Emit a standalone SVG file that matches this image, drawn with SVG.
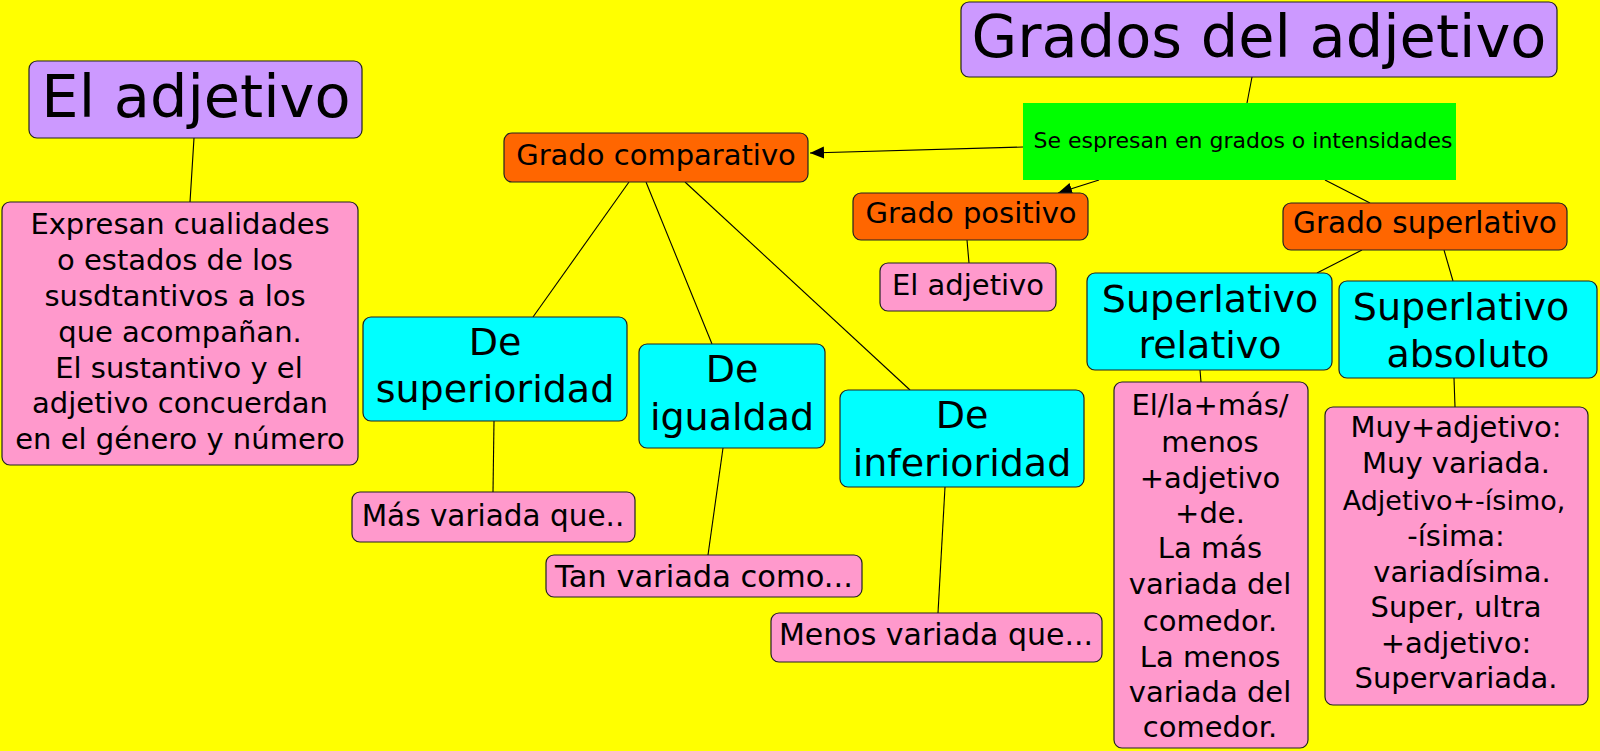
<svg xmlns="http://www.w3.org/2000/svg" width="1600" height="751" viewBox="0 0 1600 751">
<style>
  text { font-family: "DejaVu Sans", "Liberation Sans", sans-serif; fill: #000; text-anchor: middle; }
  .box { stroke: #222; stroke-width: 1.2; }
  .purple { fill: #CC99FF; }
  .orange { fill: #FF6600; }
  .cyan { fill: #00FFFF; }
  .pink { fill: #FF99CC; }
  .green { fill: #00FF00; }
  .t59 { font-size: 59px; }
  .t38 { font-size: 38px; }
  .t29 { font-size: 29px; }
  .t22 { font-size: 22px; }
  .conn line { stroke: #000; stroke-width: 1.1; }
</style>
<defs>
  <marker id="arrow" markerUnits="userSpaceOnUse" markerWidth="16" markerHeight="14" refX="14" refY="6" orient="auto">
    <path d="M0,0 L14,6 L0,12 Z" fill="#000"/>
  </marker>
</defs>
<rect width="1600" height="751" fill="#FFFF00"/>

<g id="connectors" class="conn">
  <line x1="1252" y1="77" x2="1247" y2="103"/>
  <line x1="1023" y1="147" x2="810" y2="153" marker-end="url(#arrow)"/>
  <line x1="1099" y1="180" x2="1058" y2="193" marker-end="url(#arrow)"/>
  <line x1="1325" y1="180" x2="1370" y2="203"/>
  <line x1="194" y1="138" x2="190" y2="202"/>
  <line x1="629" y1="182" x2="533" y2="317"/>
  <line x1="646" y1="182" x2="712" y2="344"/>
  <line x1="685" y1="182" x2="910" y2="390"/>
  <line x1="494" y1="421" x2="493" y2="492"/>
  <line x1="723" y1="448" x2="708" y2="555"/>
  <line x1="945" y1="487" x2="938" y2="613"/>
  <line x1="967" y1="240" x2="969" y2="263"/>
  <line x1="1362" y1="250" x2="1317" y2="273"/>
  <line x1="1444" y1="250" x2="1453" y2="281"/>
  <line x1="1200" y1="370" x2="1201" y2="382"/>
  <line x1="1454" y1="378" x2="1455" y2="407"/>
</g>

<g id="grados">
  <rect class="box purple" x="961" y="2" width="596" height="75" rx="8"/>
  <text class="t59" x="1259" y="57">Grados del adjetivo</text>
</g>
<g id="el-adjetivo">
  <rect class="box purple" x="29" y="61" width="333" height="77" rx="8"/>
  <text class="t59" x="196" y="117">El adjetivo</text>
</g>
<g id="expresan">
  <rect class="box pink" x="2" y="202" width="356" height="263" rx="8"/>
  <text class="t29" x="180" y="234">Expresan cualidades</text>
  <text class="t29" x="175" y="270">o estados de los</text>
  <text class="t29" x="175" y="306">susdtantivos a los</text>
  <text class="t29" x="180" y="342">que acompañan.</text>
  <text class="t29" x="179" y="378">El sustantivo y el</text>
  <text class="t29" x="180" y="413">adjetivo concuerdan</text>
  <text class="t29" x="180" y="449">en el género y número</text>
</g>
<g id="se-espresan">
  <rect class="green" x="1023" y="103" width="433" height="77"/>
  <text class="t22" x="1243" y="148">Se espresan en grados o intensidades</text>
</g>
<g id="grado-comparativo">
  <rect class="box orange" x="504" y="133" width="304" height="49" rx="8"/>
  <text class="t29" x="656" y="165">Grado comparativo</text>
</g>
<g id="grado-positivo">
  <rect class="box orange" x="853" y="193" width="235" height="47" rx="8"/>
  <text class="t29" x="971" y="223">Grado positivo</text>
</g>
<g id="el-adjetivo-2">
  <rect class="box pink" x="880" y="263" width="176" height="48" rx="8"/>
  <text class="t29" x="968" y="295">El adjetivo</text>
</g>
<g id="grado-superlativo">
  <rect class="box orange" x="1283" y="203" width="284" height="47" rx="8"/>
  <text x="1425" y="233" style="font-size:29.5px">Grado superlativo</text>
</g>
<g id="de-superioridad">
  <rect class="box cyan" x="363" y="317" width="264" height="104" rx="8"/>
  <text class="t38" x="495" y="355">De</text>
  <text class="t38" x="495" y="402">superioridad</text>
</g>
<g id="de-igualdad">
  <rect class="box cyan" x="639" y="344" width="186" height="104" rx="8"/>
  <text class="t38" x="732" y="382">De</text>
  <text class="t38" x="732" y="430">igualdad</text>
</g>
<g id="de-inferioridad">
  <rect class="box cyan" x="840" y="390" width="244" height="97" rx="8"/>
  <text class="t38" x="962" y="428">De</text>
  <text class="t38" x="962" y="476">inferioridad</text>
</g>
<g id="mas-variada">
  <rect class="box pink" x="352" y="492" width="283" height="50" rx="8"/>
  <text x="493" y="526" style="font-size:29.5px">Más variada que..</text>
</g>
<g id="tan-variada">
  <rect class="box pink" x="546" y="555" width="316" height="42" rx="8"/>
  <text x="704" y="587" style="font-size:30.5px">Tan variada como...</text>
</g>
<g id="menos-variada">
  <rect class="box pink" x="771" y="613" width="331" height="49" rx="8"/>
  <text x="936" y="645" style="font-size:30px">Menos variada que...</text>
</g>
<g id="superlativo-relativo">
  <rect class="box cyan" x="1087" y="273" width="245" height="97" rx="8"/>
  <text class="t38" x="1210" y="312">Superlativo</text>
  <text class="t38" x="1210" y="358">relativo</text>
</g>
<g id="superlativo-absoluto">
  <rect class="box cyan" x="1339" y="281" width="258" height="97" rx="8"/>
  <text class="t38" x="1461" y="320">Superlativo</text>
  <text class="t38" x="1468" y="367">absoluto</text>
</g>
<g id="relativo-texto">
  <rect class="box pink" x="1114" y="382" width="194" height="366" rx="8"/>
  <text class="t29" x="1210" y="415">El/la+más/</text>
  <text class="t29" x="1210" y="452">menos</text>
  <text class="t29" x="1210" y="488">+adjetivo</text>
  <text class="t29" x="1210" y="523">+de.</text>
  <text class="t29" x="1210" y="558">La más</text>
  <text class="t29" x="1210" y="594">variada del</text>
  <text class="t29" x="1210" y="631">comedor.</text>
  <text class="t29" x="1210" y="667">La menos</text>
  <text class="t29" x="1210" y="702">variada del</text>
  <text class="t29" x="1210" y="737">comedor.</text>
</g>
<g id="absoluto-texto">
  <rect class="box pink" x="1325" y="407" width="263" height="298" rx="8"/>
  <text class="t29" x="1456" y="437">Muy+adjetivo:</text>
  <text class="t29" x="1456" y="473">Muy variada.</text>
  <text x="1454" y="510" style="font-size:27px">Adjetivo+-ísimo,</text>
  <text class="t29" x="1456" y="546">-ísima:</text>
  <text class="t29" x="1462" y="582">variadísima.</text>
  <text class="t29" x="1456" y="617">Super, ultra</text>
  <text class="t29" x="1456" y="653">+adjetivo:</text>
  <text class="t29" x="1456" y="688">Supervariada.</text>
</g>
</svg>
